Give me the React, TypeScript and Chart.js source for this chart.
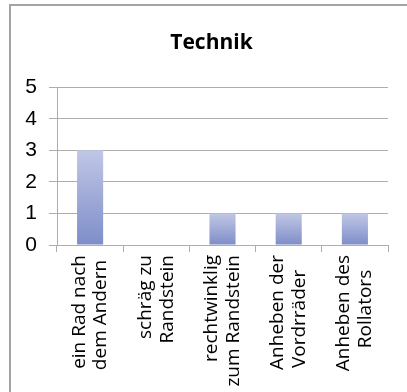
import React, { useEffect, useRef } from "react";
import { Chart, registerables } from "chart.js";

Chart.register(...registerables);

const title = "Technik";
const categories: string[][] = [
  ["ein Rad nach", "dem Andern "],
  ["schräg zu", "Randstein"],
  ["rechtwinklig", "zum Randstein"],
  ["Anheben der", "Vordrräder   "],
  ["Anheben des", "Rollators   "],
];
const values: number[] = [3, 0, 1, 1, 1];
const yMin = 0;
const yMax = 5;
const yStep = 1;

const barTop = "#c0c7e6";
const barBottom = "#7e8dc9";
const gridColor = "#adadad";

export default function App() {
  const ref = useRef<HTMLCanvasElement | null>(null);

  useEffect(() => {
    const canvas = ref.current;
    if (!canvas) return;
    const chart = new Chart(canvas, {
      type: "bar",
      data: {
        labels: categories,
        datasets: [
          {
            data: values,
            borderWidth: 0,
            categoryPercentage: 1,
            barPercentage: 0.394,
            backgroundColor: (ctx: any) => {
              const c = ctx.chart;
              const ys = c.scales && c.scales.y;
              if (!ys || ctx.parsed == null) return barBottom;
              const top = ys.getPixelForValue(ctx.parsed.y);
              const bottom = ys.getPixelForValue(0);
              if (!isFinite(top) || !isFinite(bottom) || top === bottom) return barBottom;
              const g = c.ctx.createLinearGradient(0, top, 0, bottom);
              g.addColorStop(0, barTop);
              g.addColorStop(1, barBottom);
              return g;
            },
          },
        ],
      },
      options: {
        responsive: false,
        animation: false,
        devicePixelRatio: 1,
        layout: { padding: 0 },
        plugins: {
          legend: { display: false },
          tooltip: { enabled: false },
          title: {
            display: true,
            text: title,
            color: "#000000",
            font: { family: "'Open Sans'", size: 21, weight: "bold", lineHeight: 1.2 },
            padding: { top: 30, bottom: 32 },
          },
        },
        scales: {
          x: {
            grid: {
              display: true,
              offset: true,
              drawOnChartArea: false,
              drawTicks: true,
              tickLength: 7,
              color: gridColor,
              lineWidth: 1,
            },
            border: { display: true, color: gridColor, width: 1 },
            ticks: {
              autoSkip: false,
              minRotation: 90,
              maxRotation: 90,
              padding: 3,
              labelOffset: -11,
              color: "#000000",
              font: { family: "'Open Sans'", size: 19, lineHeight: 1.15 },
            },
            afterFit: (scale: any) => {
              scale.height = 147;
            },
          },
          y: {
            min: yMin,
            max: yMax,
            grid: {
              color: gridColor,
              lineWidth: 1,
              tickLength: 8,
            },
            border: { display: true, color: gridColor, width: 1 },
            ticks: {
              stepSize: yStep,
              padding: 12,
              color: "#000000",
              font: { family: "'Liberation Sans'", size: 21 },
            },
            afterFit: (scale: any) => {
              scale.width = 48;
            },
          },
          yRight: {
            position: "right",
            display: true,
            grid: { display: false, drawTicks: false },
            border: { display: false },
            ticks: { display: false },
            afterFit: (scale: any) => {
              scale.width = 26;
            },
          },
        },
      },
    });
    return () => chart.destroy();
  }, []);

  return (
    <div>
      <div
        style={{
          position: "fixed",
          left: 9,
          top: 4,
          width: 420,
          height: 420,
          borderLeft: "2px solid #a3a3a3",
          borderTop: "2px solid #a3a3a3",
          boxSizing: "border-box",
          background: "#ffffff",
        }}
      />
      <canvas
        ref={ref}
        width={405}
        height={392}
        style={{ position: "fixed", left: 9, top: 0, width: 405, height: 392 }}
      />
    </div>
  );
}
